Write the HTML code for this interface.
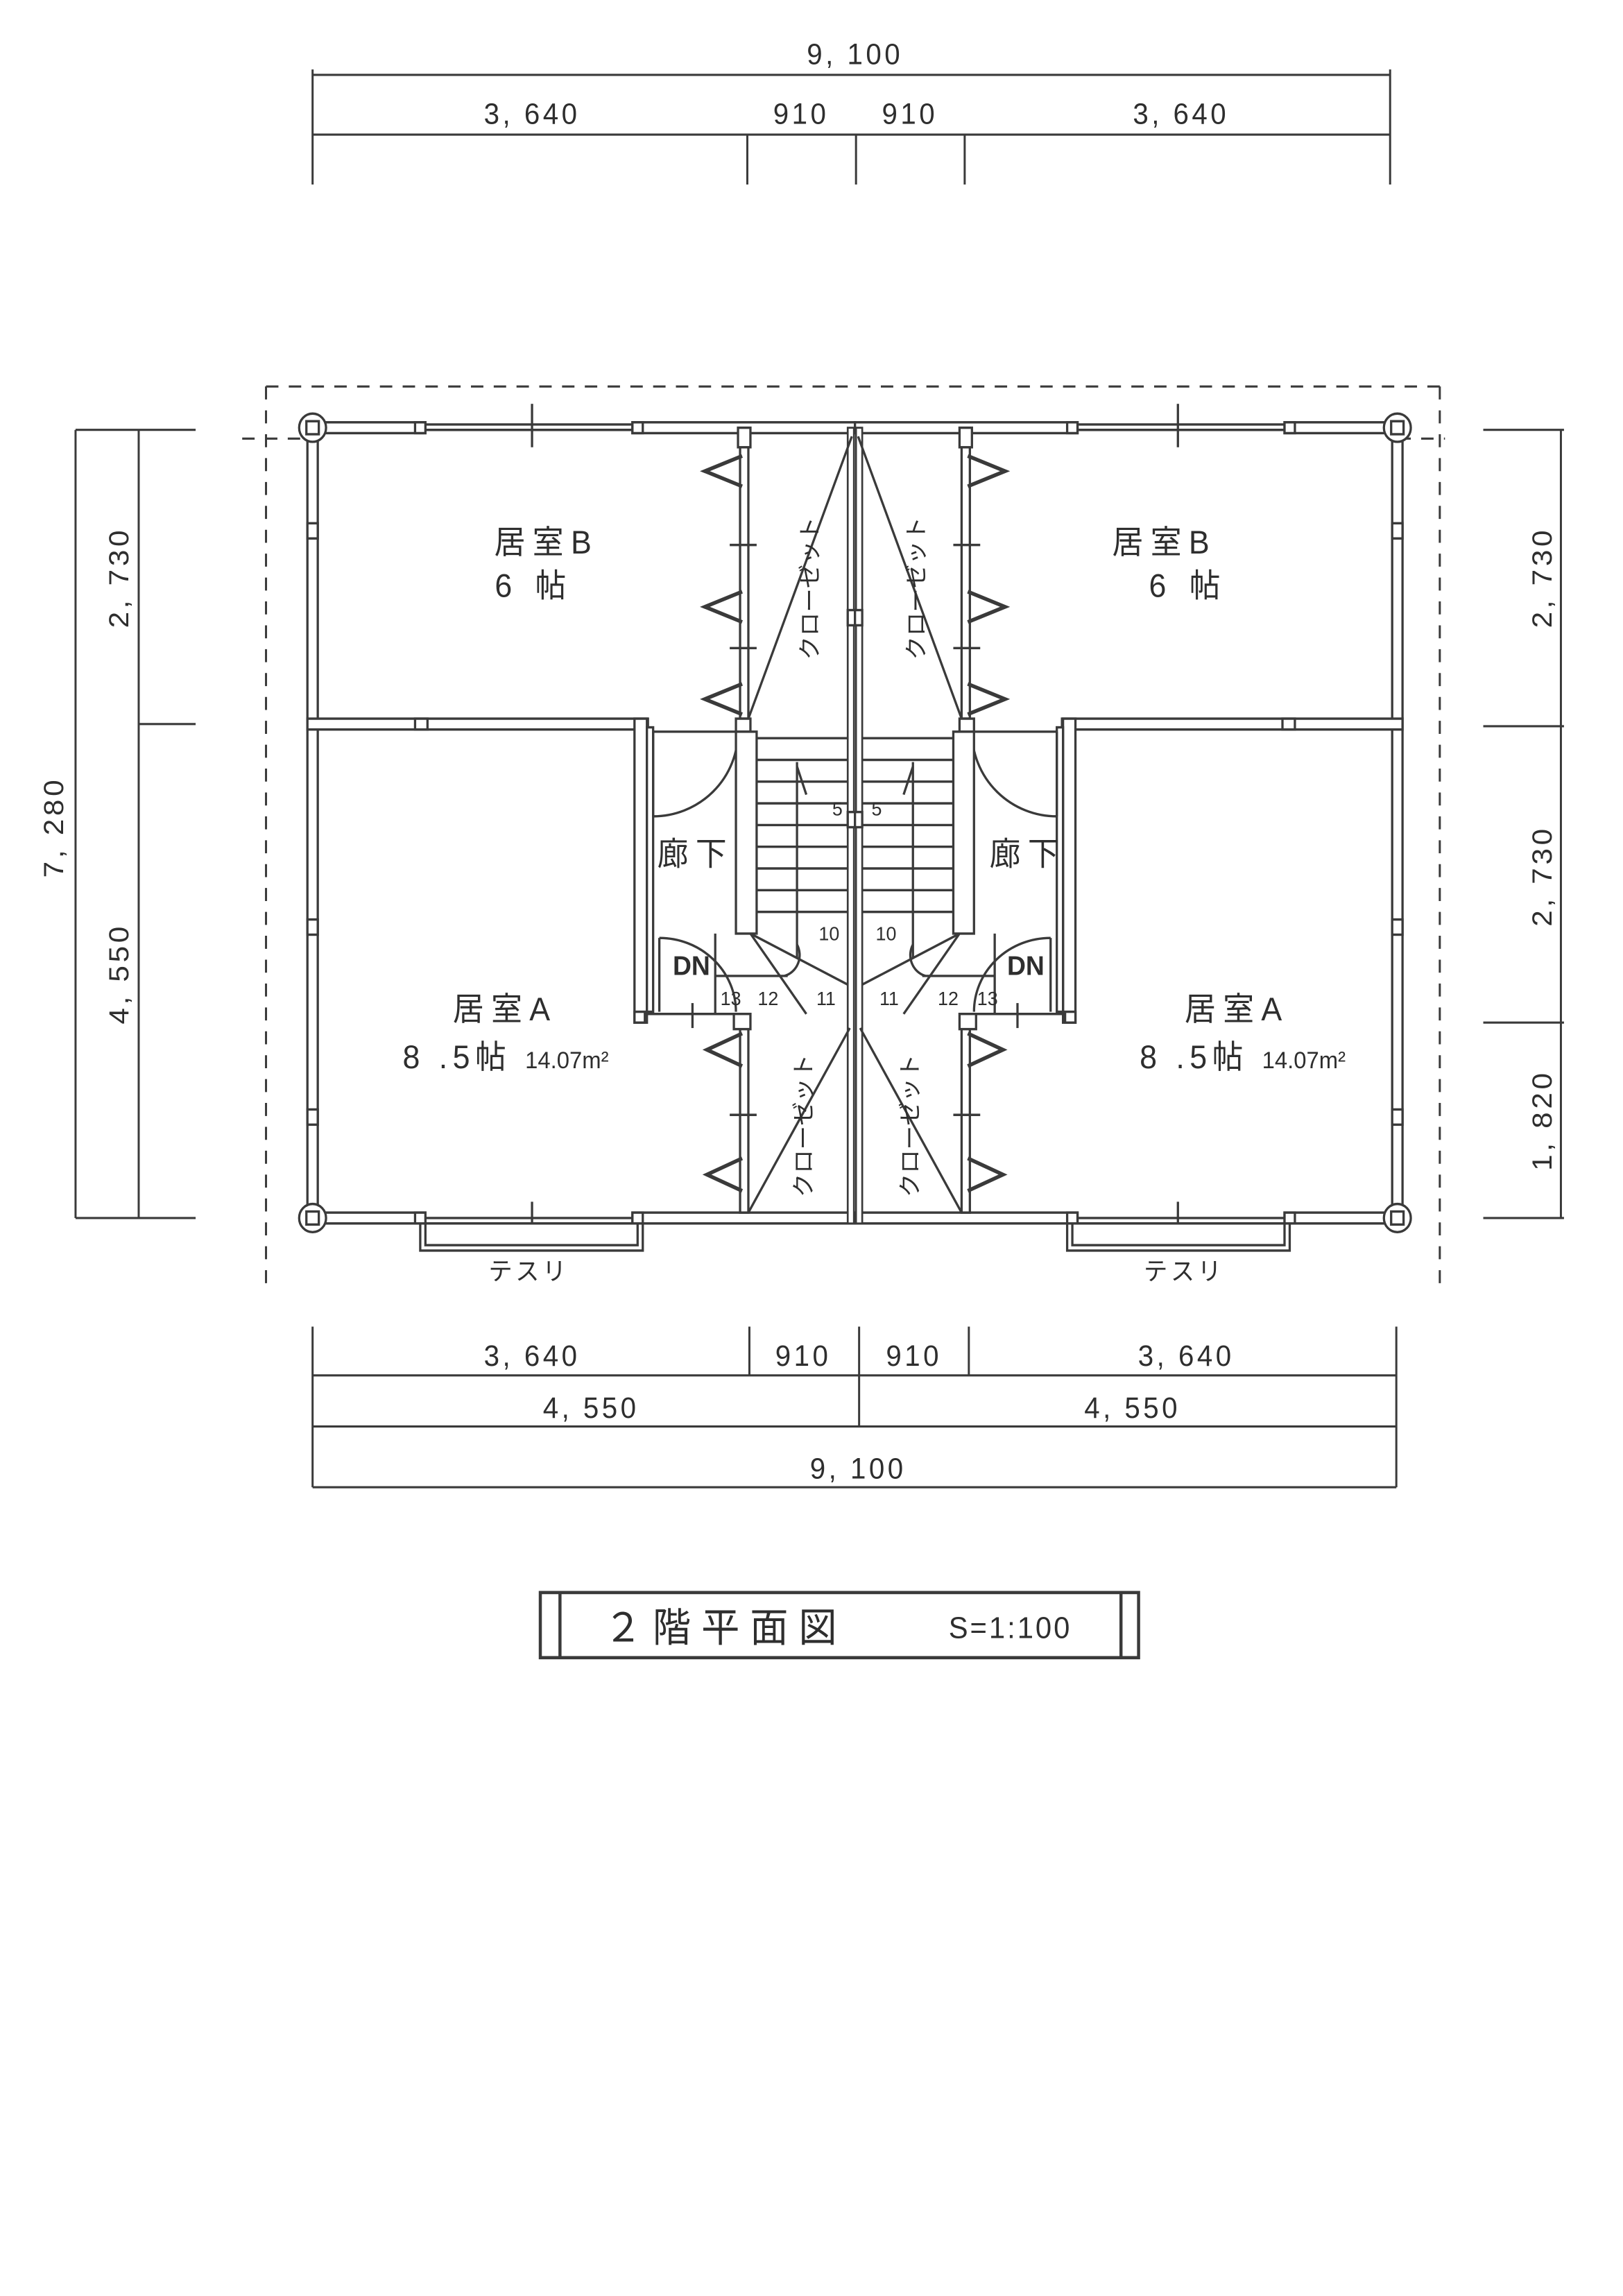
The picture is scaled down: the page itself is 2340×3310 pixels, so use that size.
<!DOCTYPE html>
<html><head><meta charset="utf-8"><style>
html,body{margin:0;padding:0;background:#fff}
svg{display:block}
text{font-family:"Liberation Sans","Noto Sans CJK JP",sans-serif;fill:#2e2e2e}
</style></head><body>
<svg width="2340" height="3310" viewBox="-1 -2 1568 2115" preserveAspectRatio="none" xmlns="http://www.w3.org/2000/svg">
<rect x="-1" y="-2" width="1568" height="2115" fill="#fff"/>
<g stroke="#3a3a3a" stroke-width="2" fill="none">
<line x1="301" y1="67" x2="1342" y2="67"/><line x1="301" y1="122" x2="1342" y2="122"/>
<line x1="301" y1="62" x2="301" y2="168"/><line x1="1342" y1="62" x2="1342" y2="168"/>
<line x1="721" y1="122" x2="721" y2="168"/><line x1="826" y1="122" x2="826" y2="168"/><line x1="931" y1="122" x2="931" y2="168"/>
<line x1="72" y1="394" x2="72" y2="1120"/><line x1="133" y1="394" x2="133" y2="1120"/>
<line x1="72" y1="394" x2="188" y2="394"/><line x1="133" y1="665" x2="188" y2="665"/><line x1="72" y1="1120" x2="188" y2="1120"/>
<line x1="1507" y1="394" x2="1507" y2="1120"/>
<line x1="1432" y1="394" x2="1510" y2="394"/><line x1="1432" y1="667" x2="1510" y2="667"/><line x1="1432" y1="940" x2="1510" y2="940"/><line x1="1432" y1="1120" x2="1510" y2="1120"/>
<line x1="301" y1="1265" x2="1348" y2="1265"/><line x1="301" y1="1312" x2="1348" y2="1312"/><line x1="301" y1="1368" x2="1348" y2="1368"/>
<line x1="301" y1="1220" x2="301" y2="1368"/><line x1="1348" y1="1220" x2="1348" y2="1368"/>
<line x1="723" y1="1220" x2="723" y2="1265"/><line x1="935" y1="1220" x2="935" y2="1265"/><line x1="829" y1="1220" x2="829" y2="1312"/>
<path d="M256 354 H1390 M256 354 V1180 M1390 354 V1180 M233 402 H300 M1350 402 H1395" stroke-dasharray="12 10"/>
<rect x="521" y="1465" width="578" height="60" stroke-width="3"/>
<line x1="540" y1="1465" x2="540" y2="1525" stroke-width="3"/><line x1="1082" y1="1465" x2="1082" y2="1525" stroke-width="3"/>
</g>

<defs>
<g id="half" stroke="#3a3a3a" stroke-width="2.2" fill="#fff">
<rect x="296" y="392" width="10" height="728"/>
<rect x="301" y="387" width="109" height="10"/>
<rect x="610" y="387" width="215" height="10"/>
<line x1="410" y1="389" x2="610" y2="389"/><line x1="410" y1="394" x2="610" y2="394"/>
<line x1="513" y1="370" x2="513" y2="410"/>
<rect x="301" y="1115" width="109" height="10"/>
<rect x="610" y="1115" width="215" height="10"/>
<line x1="410" y1="1120" x2="610" y2="1120"/>
<line x1="513" y1="1105" x2="513" y2="1140"/>
<rect x="405" y="1125" width="215" height="25"/>
<rect x="410" y="1125" width="205" height="20"/>
<rect x="400" y="387" width="10" height="10"/><rect x="610" y="387" width="10" height="10"/>
<rect x="400" y="1115" width="10" height="10"/><rect x="610" y="1115" width="10" height="10"/>
<rect x="296" y="480" width="10" height="14"/><rect x="296" y="845" width="10" height="14"/><rect x="296" y="1020" width="10" height="14"/>
<circle cx="301" cy="392" r="13"/><rect x="295" y="386" width="12" height="12"/>
<circle cx="301" cy="1120" r="13"/><rect x="295" y="1114" width="12" height="12"/>
<rect x="296" y="660" width="329" height="10"/>
<rect x="400" y="660" width="12" height="10"/>
<line x1="625" y1="672" x2="714" y2="672"/>
<rect x="612" y="660" width="12" height="280"/>
<rect x="612" y="930" width="10" height="10"/>
<rect x="624" y="668" width="6" height="262"/>
<line x1="622" y1="932" x2="712" y2="932"/>
<line x1="668" y1="922" x2="668" y2="945"/>
<rect x="714" y="397" width="8" height="263"/>
<rect x="712" y="392" width="12" height="18"/>
<rect x="710" y="660" width="14" height="12"/>
<rect x="714" y="945" width="8" height="170"/>
<rect x="708" y="932" width="16" height="14"/>
<rect x="818" y="392" width="6" height="733" stroke-width="1.8"/>
<rect x="818" y="746" width="7" height="14"/><rect x="818" y="560" width="7" height="14"/>
<path d="M630 750 V672 M712 672 A82 78 0 0 1 630 750" fill="none"/>
<path d="M636 862 V930 M636 862 A74 68 0 0 1 710 930" fill="none"/>
<rect x="710" y="672" width="20" height="186"/>
<g fill="none">
<line x1="730" y1="678" x2="818" y2="678"/>
<line x1="730" y1="698" x2="818" y2="698"/><line x1="730" y1="718" x2="818" y2="718"/>
<line x1="730" y1="738" x2="818" y2="738"/><line x1="730" y1="758" x2="818" y2="758"/>
<line x1="730" y1="778" x2="818" y2="778"/><line x1="730" y1="798" x2="818" y2="798"/>
<line x1="730" y1="818" x2="818" y2="818"/><line x1="730" y1="838" x2="818" y2="838"/>
<line x1="769" y1="700" x2="769" y2="880"/>
<line x1="769" y1="704" x2="778" y2="730"/>
<line x1="724" y1="858" x2="818" y2="905"/>
<line x1="724" y1="858" x2="778" y2="932"/>
<line x1="690" y1="897" x2="760" y2="897"/>
<line x1="690" y1="858" x2="690" y2="932"/>
<path d="M769 868 A20 20 0 0 1 757 897"/>
<line x1="722" y1="660" x2="822" y2="400"/>
<line x1="722" y1="1115" x2="820" y2="945"/>
<polyline points="716,418 680,432 716,446" stroke-width="3.5"/>
<polyline points="716,543 680,557 716,571" stroke-width="3.5"/>
<polyline points="716,628 680,642 716,656" stroke-width="3.5"/>
<polyline points="716,950 682,965 716,980" stroke-width="3.5"/>
<polyline points="716,1065 682,1080 716,1095" stroke-width="3.5"/>
<line x1="704" y1="500" x2="730" y2="500"/><line x1="704" y1="595" x2="730" y2="595"/><line x1="704" y1="1025" x2="730" y2="1025"/>
</g>
</g>
</defs>
<use href="#half"/>
<use href="#half" transform="translate(1650,0) scale(-1,1)"/>

<g font-size="27" text-anchor="middle" letter-spacing="3">
<text x="825" y="57">9, 100</text>
<text x="513" y="112">3, 640</text><text x="773" y="112">910</text><text x="878" y="112">910</text><text x="1140" y="112">3, 640</text>
<text transform="translate(60,760) rotate(-90)">7, 280</text>
<text transform="translate(123,530) rotate(-90)">2, 730</text>
<text transform="translate(123,895) rotate(-90)">4, 550</text>
<text transform="translate(1498,530) rotate(-90)">2, 730</text>
<text transform="translate(1498,805) rotate(-90)">2, 730</text>
<text transform="translate(1498,1030) rotate(-90)">1, 820</text>
<text x="513" y="1256">3, 640</text><text x="775" y="1256">910</text><text x="882" y="1256">910</text><text x="1145" y="1256">3, 640</text>
<text x="570" y="1304">4, 550</text><text x="1093" y="1304">4, 550</text>
<text x="828" y="1360">9, 100</text>
</g>
<g font-size="30" text-anchor="middle" letter-spacing="7">
<text x="527" y="508">居室B</text><text x="515" y="548">6 帖</text>
<text x="1124" y="508">居室B</text><text x="1147" y="548">6 帖</text>
<text x="671" y="795">廊下</text><text x="992" y="795">廊下</text>
<text x="487" y="938">居室A</text><text x="1194" y="938">居室A</text>
</g>
<g font-size="30">
<text x="388" y="982" letter-spacing="5">8 .5帖 <tspan font-size="22" letter-spacing="0">14.07m²</tspan></text>
<text x="1100" y="982" letter-spacing="5">8 .5帖 <tspan font-size="22" letter-spacing="0">14.07m²</tspan></text>
</g>
<g font-size="23" text-anchor="middle">
<text x="510" y="1177" letter-spacing="3">テスリ</text><text x="1143" y="1177" letter-spacing="3">テスリ</text>
<text x="667" y="896" font-weight="bold" font-size="25">DN</text><text x="990" y="896" font-weight="bold" font-size="25">DN</text>
</g>
<g font-size="18" text-anchor="middle">
<text x="808" y="749">5</text><text x="846" y="749">5</text>
<text x="800" y="864">10</text><text x="855" y="864">10</text>
<text x="705" y="924">13</text><text x="741" y="924">12</text><text x="797" y="924">11</text>
<text x="858" y="924">11</text><text x="915" y="924">12</text><text x="953" y="924">13</text>
</g>
<g font-size="22" text-anchor="middle">
<text transform="translate(789,540) rotate(-90)">クローゼット</text>
<text transform="translate(892,540) rotate(-90)">クローゼット</text>
<text transform="translate(783,1035) rotate(-90)">クローゼット</text>
<text transform="translate(886,1035) rotate(-90)">クローゼット</text>
</g>
<text x="700" y="1510" font-size="37" text-anchor="middle" letter-spacing="10">２階平面図</text>
<text x="975" y="1507" font-size="28" text-anchor="middle" letter-spacing="2">S=1:100</text>
</svg>
</body></html>
